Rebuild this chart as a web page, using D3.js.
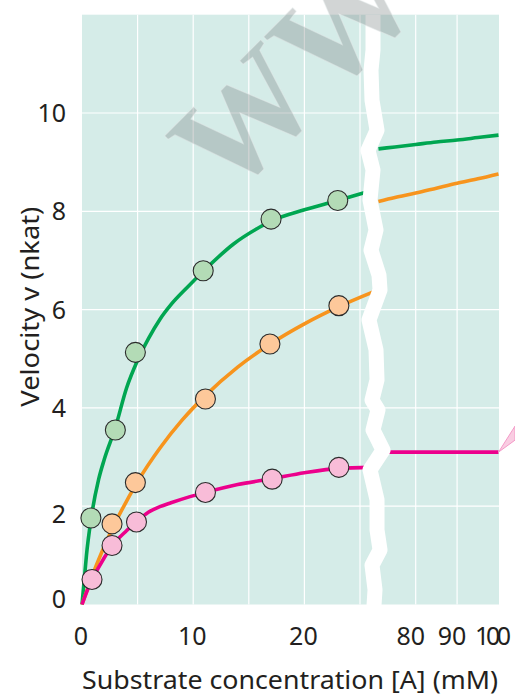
<!DOCTYPE html>
<html><head><meta charset="utf-8">
<script src="https://cdn.jsdelivr.net/npm/d3@7"></script>
<style>body{margin:0;background:#fff}svg{display:block}</style>
</head><body>
<script>
// ---------- data ----------
const yTicks = [0, 2, 4, 6, 8, 10];
const yGrid = [2, 4, 6, 8, 10];
const xTicksLeft = [0, 10, 20];
const xTicksRight = [80, 90, 100];
const xGridLeft = [5, 10, 15, 20, 25];
const xGridRight = [80, 90];

// measured points [A] (mM) and v (nkat)
const greenPtsA = [0.8, 3.0, 4.8, 10.9, 17.0, 23.0];
const greenPtsV = [1.76, 3.55, 5.13, 6.79, 7.84, 8.22];
const orangePtsA = [2.7, 4.8, 11.1, 16.9, 23.1];
const orangePtsV = [1.64, 2.48, 4.18, 5.3, 6.08];
const pinkPtsA = [0.9, 2.7, 4.9, 11.1, 17.1, 23.1];
const pinkPtsV = [0.51, 1.2, 1.68, 2.28, 2.55, 2.79];

// fitted curves
const greenCurveA = [0, 0.2, 0.4, 0.8, 1.5, 2, 3, 4, 5, 6, 7, 8, 9.5, 11, 13.6, 16, 17, 20, 23, 25.4];
const greenCurveV = [0, 0.5, 1.0, 1.72, 2.55, 2.95, 3.6, 4.4, 4.97, 5.42, 5.8, 6.1, 6.46, 6.8, 7.33, 7.68, 7.8, 8.03, 8.22, 8.38];
const orangeCurveA = [0, 0.5, 1, 2, 3, 4, 5, 7, 9, 11, 14, 17, 20, 23, 26.2];
const orangeCurveV = [0, 0.32, 0.63, 1.18, 1.67, 2.1, 2.5, 3.18, 3.75, 4.23, 4.83, 5.31, 5.71, 6.05, 6.36];
const pinkCurveA = [0, 0.5, 0.93, 2, 2.73, 4, 4.88, 6, 7, 8, 9.5, 11.1, 14, 17.1, 20, 23.1, 26];
const pinkCurveV = [0, 0.3, 0.51, 0.95, 1.2, 1.5, 1.68, 1.88, 1.99, 2.07, 2.18, 2.28, 2.44, 2.56, 2.68, 2.77, 2.79];

const rightCurveA = [71, 75, 80, 85, 90, 95, 100];
const greenRightV = [9.27, 9.31, 9.36, 9.41, 9.45, 9.5, 9.55];
const orangeRightV = [8.2, 8.28, 8.37, 8.47, 8.57, 8.66, 8.76];
const pinkRightV = [3.1, 3.1, 3.1, 3.1, 3.1, 3.1, 3.1];

// axis break centre line (left-scale units, v units)
const breakA = [26.17,26.17,25.99,26.08,26.53,25.72,26.17,25.90,26.44,25.99,26.71,26.80,25.81,26.44,26.53,26.08,26.62,26.17,27.07,25.90,26.53,26.53,26.80,26.08,26.35,26.26];
const breakV = [12.0,11.28,10.87,10.26,9.65,9.24,8.84,8.23,7.62,7.21,6.70,6.40,5.79,5.18,4.57,4.16,3.96,3.55,3.14,2.74,2.13,1.52,1.11,0.80,0.30,-0.02];

const yLabel = "Velocity v (nkat)";
const xLabel = "Substrate concentration [A] (mM)";
const watermark = "WWW";

// ---------- chart ----------
const W = 515, H = 696;
const L = 82, R = 499, T = 14.7, B = 604.5;
const svg = d3.select("body").append("svg").attr("width", W).attr("height", H);

const y = d3.scaleLinear().domain([0, 12]).range([B, T]);
const xL = d3.scaleLinear().domain([0, 25]).range([L, 360]);
const xR = d3.scaleLinear().domain([80, 100]).range([415.7, 498.5]);

const txt = "#231f20";
const font = "'Noto Sans', 'Open Sans', sans-serif";

svg.append("rect").attr("x", L).attr("y", T).attr("width", R - L).attr("height", B - T).attr("fill", "#d5ece8");

// grid
svg.selectAll(".hg").data(yGrid).enter().append("line")
  .attr("x1", L).attr("x2", R).attr("y1", d => y(d)).attr("y2", d => y(d))
  .attr("stroke", "#fff").attr("stroke-width", 1.2);
svg.selectAll(".vgl").data(xGridLeft).enter().append("line")
  .attr("x1", d => xL(d)).attr("x2", d => xL(d)).attr("y1", T).attr("y2", B)
  .attr("stroke", "#fff").attr("stroke-width", 1.2);
svg.selectAll(".vgr").data(xGridRight).enter().append("line")
  .attr("x1", d => xR(d)).attr("x2", d => xR(d)).attr("y1", T).attr("y2", B)
  .attr("stroke", "#fff").attr("stroke-width", 1.2);

// curves
const lineL = d3.line().x(d => xL(d[0])).y(d => y(d[1])).curve(d3.curveMonotoneX);
const lineR = d3.line().x(d => xR(d[0])).y(d => y(d[1])).curve(d3.curveMonotoneX);
const zip = (a, b) => a.map((v, i) => [v, b[i]]);

const series = [
  {c: "#00a651", f: "#b3dbb6", cA: greenCurveA, cV: greenCurveV, rV: greenRightV, pA: greenPtsA, pV: greenPtsV},
  {c: "#f7941d", f: "#fdc89a", cA: orangeCurveA, cV: orangeCurveV, rV: orangeRightV, pA: orangePtsA, pV: orangePtsV},
  {c: "#ec008c", f: "#f8bcd8", cA: pinkCurveA, cV: pinkCurveV, rV: pinkRightV, pA: pinkPtsA, pV: pinkPtsV}
];
series.forEach(s => {
  svg.append("path").attr("d", lineL(zip(s.cA, s.cV))).attr("fill", "none")
    .attr("stroke", s.c).attr("stroke-width", 3.6);
  svg.append("path").attr("d", lineR(zip(rightCurveA, s.rV))).attr("fill", "none")
    .attr("stroke", s.c).attr("stroke-width", 3.6);
});

// break
svg.append("path")
  .attr("d", d3.line().x(d => xL(d[0])).y(d => y(d[1]))(zip(breakA, breakV)))
  .attr("fill", "none").attr("stroke", "#fff").attr("stroke-width", 15).attr("stroke-linejoin", "round");

// markers
series.forEach(s => {
  svg.selectAll(null).data(zip(s.pA, s.pV)).enter().append("circle")
    .attr("cx", d => xL(d[0])).attr("cy", d => y(d[1])).attr("r", 10)
    .attr("fill", s.f).attr("stroke", "#2b2b2b").attr("stroke-width", 1.1);
});

// pink pointer fragment at right edge
{
  const px = xR(100), py = y(pinkRightV[pinkRightV.length - 1]);
  svg.append("path").attr("d", `M${px},${py} L${W},${py - 26} L${W},${py - 12} Z`)
    .attr("fill", "#f9cde2").attr("stroke", "#f49ac8").attr("stroke-width", 1);
}

// y ticks
const yNudge = {0: -6, 2: 8};
svg.selectAll(".yt").data(yTicks).enter().append("text")
  .attr("x", 66).attr("y", d => y(d) + (yNudge[d] || 0)).attr("dy", "0.36em")
  .attr("text-anchor", "end").attr("font-family", font).attr("font-size", 25).attr("fill", txt)
  .text(d => d);

// x ticks
svg.selectAll(".xtl").data(xTicksLeft).enter().append("text")
  .attr("x", d => xL(d) - 1).attr("y", 645)
  .attr("text-anchor", "middle").attr("font-family", font).attr("font-size", 25).attr("fill", txt)
  .text(d => d);
svg.selectAll(".xtr").data(xTicksRight).enter().append("text")
  .attr("x", d => d === 100 ? xR(d) + 9 : xR(d) - 5).attr("y", 645)
  .attr("text-anchor", d => d === 100 ? "end" : "middle")
  .attr("letter-spacing", d => d === 100 ? -3.5 : 0)
  .attr("font-family", font).attr("font-size", 25).attr("fill", txt)
  .text(d => d);

// axis titles
svg.append("text").attr("x", L).attr("y", 689)
  .attr("font-family", font).attr("font-size", 25).attr("fill", txt)
  .attr("textLength", 416).attr("lengthAdjust", "spacingAndGlyphs").text(xLabel);
svg.append("text").attr("transform", "translate(39,306.7) rotate(-90)")
  .attr("text-anchor", "middle").attr("font-family", font).attr("font-size", 25).attr("fill", txt)
  .attr("textLength", 200).attr("lengthAdjust", "spacingAndGlyphs").text(yLabel);

// watermark
svg.append("text").attr("transform", "translate(228,202) rotate(-45)")
  .attr("font-family", "'Liberation Serif', 'DejaVu Serif', serif").attr("font-weight", "bold")
  .attr("font-size", 140).attr("fill", "#7f8786").attr("fill-opacity", 0.35)
  .attr("stroke", "#e8eeed").attr("stroke-opacity", 0.5).attr("stroke-width", 1)
  .text(watermark);
</script>
</body></html>
